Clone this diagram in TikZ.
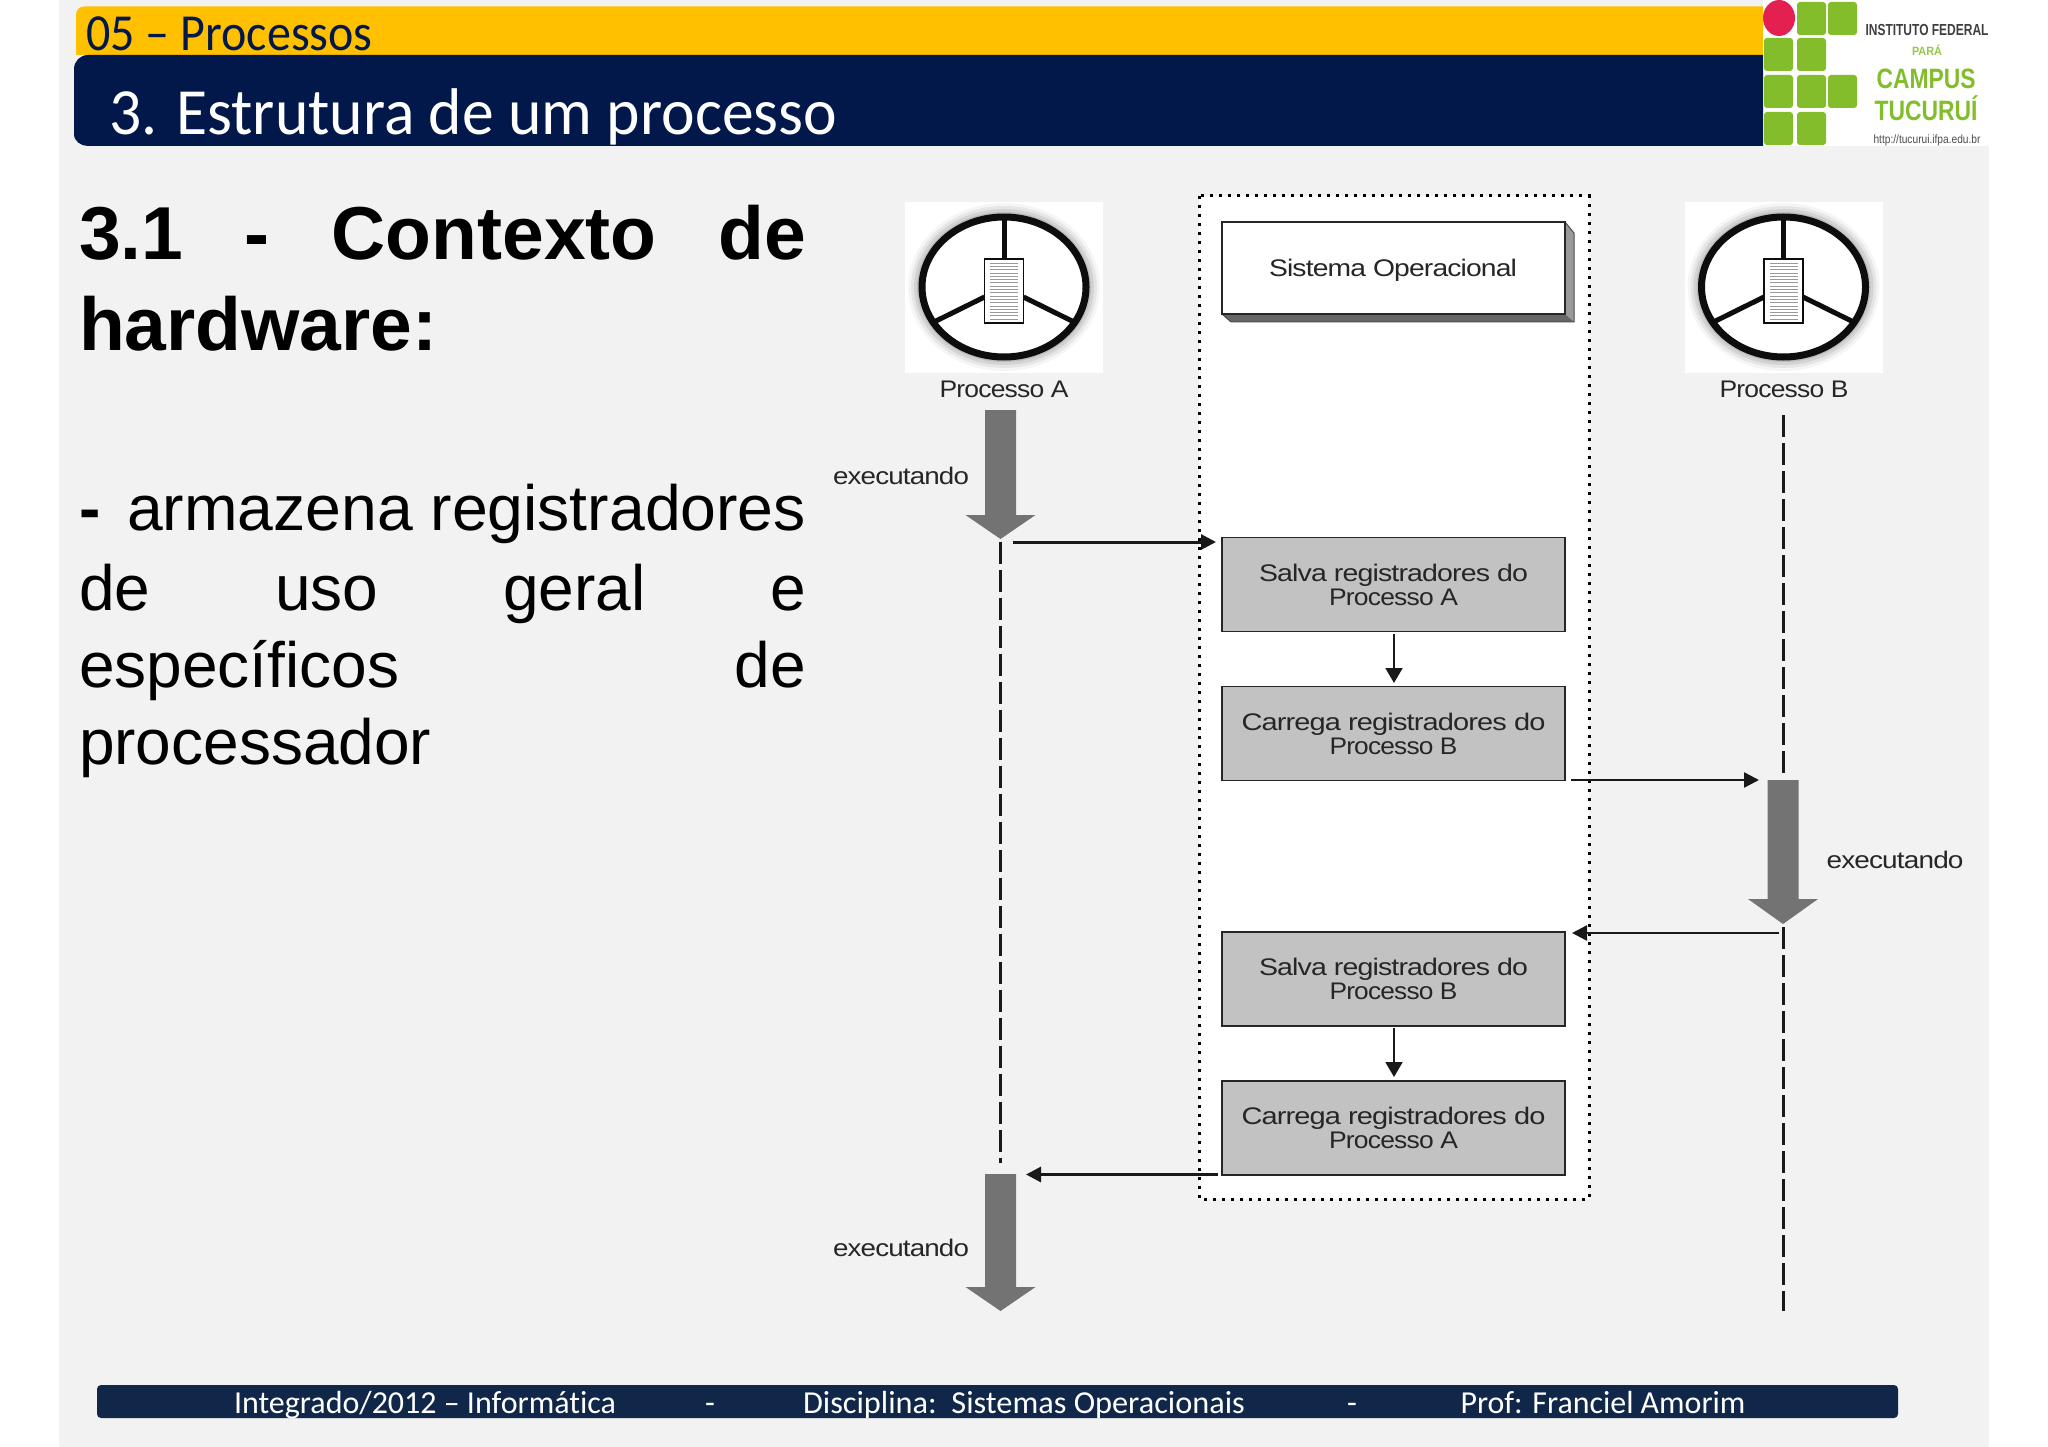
\documentclass[tikz,border=0pt]{standalone}
\usepackage{fontspec}
\setmainfont{Liberation Sans}
\newfontfamily\carl[Ligatures=NoCommon]{Carlito}
\newfontfamily\figf[LetterSpace=-3]{Liberation Sans}
\usetikzlibrary{arrows.meta}
\definecolor{pagebg}{HTML}{F2F2F3}
\definecolor{barY}{HTML}{FFC000}
\definecolor{barN}{HTML}{02174A}
\definecolor{footN}{HTML}{10274A}
\definecolor{ifgreen}{HTML}{84BD2C}
\definecolor{ifred}{HTML}{E3204F}
\definecolor{boxgray}{HTML}{C3C2C3}
\definecolor{arrowgray}{HTML}{747374}
\newlength\fitl
\newcommand\fitw[2]{\settowidth\fitl{#2}\pgfmathsetmacro\fitr{#1/\fitl}\scalebox{\fitr}[1]{#2}}
\newcommand\sz[1]{\fontsize{#1pt}{#1pt}\selectfont}
\tikzset{
  txt/.style={inner sep=0pt,outer sep=0pt},
  dlabel/.style={txt,font=\figf\sz{24},text=black!85},
  sq/.style={fill=ifgreen,rounded corners=3pt},
  graybox/.style={draw=black!85,line width=1.5pt,fill=boxgray,minimum width=343pt,minimum height=94pt,inner sep=0pt,font=\figf\fontsize{24pt}{24pt}\selectfont,align=center,text=black!85,execute at begin node={\rule{0pt}{22pt}}},
  flow/.style={draw=black!90,line width=3pt,-{Triangle[length=15pt,width=15pt]}},
  flowthin/.style={draw=black!90,line width=2pt,-{Triangle[length=15pt,width=17pt]}},
  lifeline/.style={draw=black!90,line width=2.5pt,dash pattern=on 22pt off 6pt},
  footertxt/.style={txt,anchor=base,text=white,font=\carl\sz{32}},
}
% thick grey arrow: centre x, top y, head start y, tip y, name of tip
\newcommand\bigarrow[5]{%
  \fill[arrowgray] (#1-15.5,#2) -- (#1+15.5,#2) -- (#1+15.5,#3) -- (#1+35,#3) -- (#1,#4) -- (#1-35,#3) -- (#1-15.5,#3) -- cycle;
  \coordinate (#5) at (#1,#4);}
% process icon: centre x, name
\newcommand\procicon[2]{%
  \fill[white] (#1-99,202) rectangle (#1+99,373);
  \foreach \g/\o in {14/0.04,11/0.06,8/0.08,5/0.10,2/0.12}{
    \fill[black,opacity=\o] (#1,287) ellipse ({82+\g} and {70+\g});}
  \draw[black!95,line width=7pt,fill=white] (#1,287) ellipse (82 and 70);
  \draw[black!95,line width=5pt] (#1,217) -- (#1,259);
  \draw[black!95,line width=5pt] (#1-19.5,297) -- (#1-70,322);
  \draw[black!95,line width=5pt] (#1+19.5,297) -- (#1+70,322);
  \draw[black!95,line width=1.5pt,fill=white] (#1-19.5,259) rectangle (#1+19.5,323);
  \foreach \k in {0,...,17}{
    \draw[black!40,line width=0.6pt] (#1-14,{263+\k*3.3}) -- (#1+14,{263+\k*3.3});}
  \coordinate (#2) at (#1,287);}
\begin{document}
\begin{tikzpicture}[x=1pt,y=-1pt]
\useasboundingbox (0,0) rectangle (2048,1447);
\fill[white] (0,0) rectangle (2048,1447);
\fill[pagebg] (59,0) rectangle (1989,1447);
% header
\fill[white] (1763,0) rectangle (1989,146);
\fill[barY] (1763,6.5) -- (84,6.5) to[out=180,in=90] (76,14.5) -- (76,55) -- (1763,55) -- cycle;
\fill[barN] (1763,55) -- (88,55) to[out=180,in=90] (74,69) -- (74,134) to[out=270,in=180] (88,146) -- (1763,146) -- cycle;
\node[txt,anchor=base west,font=\carl\sz{52},text=barN] (tsec) at (86.5,51) {\fitw{286}{05 – Processos}};
\node[txt,anchor=base west,font=\carl\sz{66},text=white] (ttl) at (109,135) {\fitw{728}{3. Estrutura de um processo}};
% logo
\fill[ifred] (1779,18) ellipse (16 and 18);
\foreach \x/\y in {1797/2,1828/2,1764/38,1797/38,1764/75,1797/75,1828/75,1764/112,1797/112}{
  \fill[sq] (\x,\y) rectangle (\x+29,\y+33);}
\node[txt,font=\bfseries\sz{16},text=black!75] (lg1) at (1927,30) {\fitw{123}{INSTITUTO FEDERAL}};
\node[txt,font=\bfseries\sz{12},text=ifgreen!85!white] (lg2) at (1927,50) {\fitw{30}{PARÁ}};
\node[txt,font=\bfseries\sz{28},text=ifgreen] (lg3) at (1926,79) {\fitw{99}{CAMPUS}};
\node[txt,font=\bfseries\sz{28},text=ifgreen] (lg4) at (1926,108) {\fitw{103}{TUCURUÍ}};
\node[txt,font=\sz{12},text=black!70] (lg5) at (1927,140) {\fitw{107}{http://tucurui.ifpa.edu.br}};
% left text
\node[txt,anchor=base west,font=\bfseries\sz{75},text=black] (h1) at (79,259.5) {\hbox to 727pt{3.1\hfill-\hfill Contexto\hfill de}};
\node[txt,anchor=base west,font=\bfseries\sz{75},text=black] (h2) at (79,350) {hardware:};
\node[txt,anchor=base west,font=\sz{64},text=black] (b1) at (79,530) {\hbox to 727pt{\textbf{-}\hfill\fitw{679}{armazena registradores}}};
\node[txt,anchor=base west,font=\sz{64},text=black] (b2) at (79,610) {\hbox to 727pt{de\hfill uso\hfill geral\hfill e}};
\node[txt,anchor=base west,font=\sz{64},text=black] (b3) at (79,687) {\hbox to 727pt{específicos\hfill de}};
\node[txt,anchor=base west,font=\sz{64},text=black] (b4) at (79,764) {processador};
% OS zone
\draw[black,fill=white,line width=3pt,dash pattern=on 3pt off 6pt] (1199,196) rectangle (1589,1199);
% process icons
\procicon{1004}{pa}
\procicon{1783.5}{pb}
\node[dlabel] (la) at (1004,389) {\fitw{129}{Processo A}};
\node[dlabel] (lb) at (1784,389) {\fitw{129}{Processo B}};
% SO box
\fill[black!40] (1565,222) -- (1574,233) -- (1574,322) -- (1565,314) -- cycle;
\fill[black!60] (1222,314) -- (1565,314) -- (1574,322) -- (1231,322) -- cycle;
\draw[black!70,line width=1pt] (1565,222) -- (1574,233) -- (1574,322) -- (1231,322) -- (1222,314);
\node[draw=black!85,line width=1.5pt,fill=white,minimum width=343pt,minimum height=92pt,inner sep=0pt] (so) at (1393.5,268) {};
\node[dlabel] (sot) at (1393,270.5) {\fitw{248}{Sistema Operacional}};
% grey boxes
\node[graybox] (s1) at (1393.5,584.5) {\fitw{269}{Salva registradores do}\\\fitw{129}{Processo A}};
\node[graybox] (s2) at (1393.5,733.5) {\fitw{304}{Carrega registradores do}\\\fitw{128}{Processo B}};
\node[graybox] (s3) at (1393.5,979) {\fitw{269}{Salva registradores do}\\\fitw{128}{Processo B}};
\node[graybox] (s4) at (1393.5,1128) {\fitw{304}{Carrega registradores do}\\\fitw{129}{Processo A}};
% big arrows
\bigarrow{1000.5}{410}{515}{539}{ta1}
\bigarrow{1000.5}{1174}{1287}{1311}{ta2}
\bigarrow{1783}{780}{899}{924}{tb1}
% executando
\node[dlabel] (e1) at (901,476) {\fitw{136}{executando}};
\node[dlabel] (e2) at (901,1248) {\fitw{136}{executando}};
\node[dlabel] (e3) at (1895,860) {\fitw{137}{executando}};
% lifelines
\coordinate (da1) at (1000.5,542);
\coordinate (da2) at (1000.5,1163);
\coordinate (db1) at (1783.5,415);
\coordinate (db2) at (1783.5,777);
\coordinate (db3) at (1783.5,927);
\coordinate (db4) at (1783.5,1311);
\draw[lifeline] (da1) -- (da2);
\draw[lifeline] (db1) -- (db2);
\draw[lifeline] (db3) -- (db4);
% flows
\coordinate (f1a) at (1013,542);
\coordinate (f1b) at (1216,542);
\coordinate (f2a) at (1571,780);
\coordinate (f2b) at (1759,780);
\coordinate (f3a) at (1779,933);
\coordinate (f3b) at (1572,933);
\coordinate (f4a) at (1218,1174.5);
\coordinate (f4b) at (1026,1174.5);
\coordinate (d1a) at (1394,634);
\coordinate (d1b) at (1394,683);
\coordinate (d2a) at (1394,1028);
\coordinate (d2b) at (1394,1077);
\draw[flow] (f1a) -- (f1b);
\draw[flow,line width=2.5pt] (f2a) -- (f2b);
\draw[flow,line width=2.5pt] (f3a) -- (f3b);
\draw[flow] (f4a) -- (f4b);
\draw[flowthin] (d1a) -- (d1b);
\draw[flowthin] (d2a) -- (d2b);
% footer
\fill[footN,rounded corners=4pt] (97,1385) rectangle (1898,1418);
\node[footertxt] (f1) at (425,1413) {\fitw{382}{Integrado/2012 – Informática}};
\node[footertxt] (f2) at (710,1413) {-};
\node[footertxt] (f3) at (1024,1413) {\fitw{442}{Disciplina:\ \ Sistemas Operacionais}};
\node[footertxt] (f4) at (1352,1413) {-};
\node[footertxt] (f5) at (1603,1413) {\fitw{285}{Prof: Franciel Amorim}};
\end{tikzpicture}
\end{document}
